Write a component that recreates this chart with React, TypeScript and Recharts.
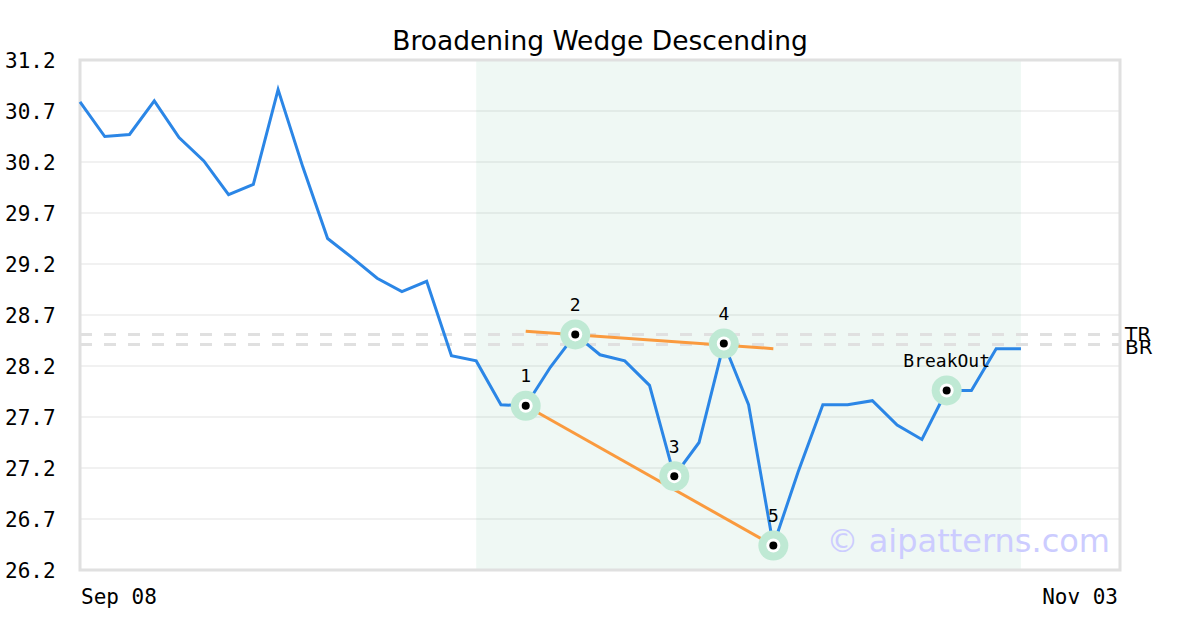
import { LineChart, Line, XAxis, YAxis, CartesianGrid, ReferenceArea, ReferenceLine, ReferenceDot } from "recharts"

// closing prices, one per trading day starting Sep 08
const closes = [
  30.79, 30.45, 30.47, 30.8, 30.44, 30.21, 29.88, 29.98, 30.91, 30.15,
  29.45, 29.26, 29.06, 28.93, 29.03, 28.3, 28.25, 27.82, 27.81, 28.19,
  28.51, 28.31, 28.25, 28.01, 27.12, 27.45, 28.42, 27.82, 26.44, 27.16,
  27.82, 27.82, 27.86, 27.62, 27.48, 27.96, 27.96, 28.37, 28.37,
]
const xTicks = [0, 42]
const xTickLabels = ["Sep 08", "Nov 03"]
const yTicks = [26.2, 26.7, 27.2, 27.7, 28.2, 28.7, 29.2, 29.7, 30.2, 30.7, 31.2]

const patternIdx = [18, 20, 24, 26, 28, 35]
const patternLabels = ["1", "2", "3", "4", "5", "BreakOut"]

const zoneStart = 16
const zoneEnd = 38

const topTrend = [
  { x: 18, y: 28.54 },
  { x: 28, y: 28.37 },
]
const bottomTrend = [
  { x: 18, y: 27.81 },
  { x: 28, y: 26.44 },
]
const levelTR = 28.51
const levelBR = 28.41

const data = closes.map((close, i) => ({
  i,
  close,
  mark: patternIdx.includes(i) ? close : null,
}))

const mono = "'DejaVu Sans Mono', monospace"

function YTick(props: any) {
  const { y, payload } = props
  return (
    <text x={5} y={y} dy="0.36em" textAnchor="start" fontFamily={mono} fontSize={21} fill="#000">
      {payload.value.toFixed(1)}
    </text>
  )
}

function XTick(props: any) {
  const { x, y, payload } = props
  const k = xTicks.indexOf(payload.value)
  return (
    <text
      x={k === 0 ? x + 1 : x - 2}
      y={y + 18}
      dy="0.36em"
      textAnchor={k === 0 ? "start" : "end"}
      fontFamily={mono}
      fontSize={21}
      fill="#000"
    >
      {xTickLabels[k]}
    </text>
  )
}

function Halo(props: any) {
  const { cx, cy, value, index } = props
  if (value == null || cy == null) return <g key={"hx" + index} />
  return <circle key={"hx" + index} cx={cx} cy={cy} r={15} fill="#bfe9d4" />
}

export default function App() {
  return (
    <div style={{ position: "absolute", left: 0, top: 0, width: 1200, height: 630, background: "#fff", fontFamily: "'DejaVu Sans', sans-serif" }}>
      <div style={{ position: "absolute", left: 0, width: 1200, top: 25, textAlign: "center", fontSize: 26.5, color: "#000" }}>
        Broadening Wedge Descending
      </div>
      <LineChart width={1200} height={630} data={data} margin={{ top: 60, right: 80, bottom: 0, left: 0 }}>
        <CartesianGrid vertical={false} stroke="#e3e3e3" />
        <ReferenceArea x1={zoneStart} x2={zoneEnd} y1={26.2} y2={31.2} fill="#4caf82" fillOpacity={0.09} stroke="none" />
        <XAxis dataKey="i" type="number" domain={[0, 42]} ticks={xTicks} tick={<XTick />} tickLine={false} axisLine={false} height={60} />
        <YAxis domain={[26.2, 31.2]} ticks={yTicks} tick={<YTick />} tickLine={false} axisLine={false} width={80} />
        <ReferenceLine
          y={levelTR}
          stroke="#e0e0e0"
          strokeWidth={3}
          strokeDasharray="12 12"
          label={{ value: "TR", position: "right", fill: "#000", fontSize: 20, offset: 5 }}
        />
        <ReferenceLine
          y={levelBR}
          stroke="#e0e0e0"
          strokeWidth={3}
          strokeDasharray="12 12"
          label={{ value: "BR", position: "right", fill: "#000", fontSize: 20, offset: 5, dy: 2 }}
        />
        <Line dataKey="mark" stroke="none" dot={<Halo />} activeDot={false} connectNulls={false} isAnimationActive={false} />
        <Line dataKey="close" stroke="#2b86e6" strokeWidth={3} dot={false} isAnimationActive={false} />
        <ReferenceLine segment={topTrend} stroke="#fa9a3e" strokeWidth={3} />
        <ReferenceLine segment={bottomTrend} stroke="#fa9a3e" strokeWidth={3} />
        {patternIdx.map((p, k) => (
          <ReferenceDot
            key={"d" + p}
            x={p}
            y={closes[p]}
            r={7}
            shape={(s: any) => (
              <g>
                <circle cx={s.cx} cy={s.cy} r={7} fill="#fff" />
                <circle cx={s.cx} cy={s.cy} r={4} fill="#000" />
                <text x={s.cx} y={s.cy - 30} dy="0.36em" textAnchor="middle" fontFamily={mono} fontSize={18} fill="#000">
                  {patternLabels[k]}
                </text>
              </g>
            )}
          />
        ))}
        <ReferenceArea x1={0} x2={42} y1={26.2} y2={31.2} fill="none" stroke="#e0e0e0" strokeWidth={3} />
      </LineChart>
      <div style={{ position: "absolute", right: 90, top: 522, fontSize: 32, color: "#ccccff", whiteSpace: "nowrap" }}>
        © aipatterns.com
      </div>
    </div>
  )
}
